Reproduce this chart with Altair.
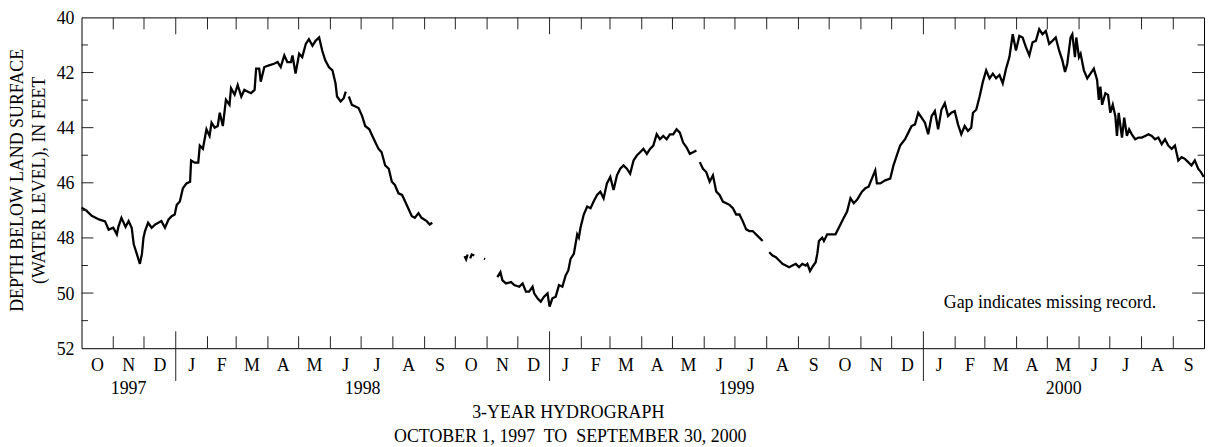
import altair as alt
import pandas as pd

# ---- data: (days since 1997-10-01, depth below land surface in feet) ----
START = pd.Timestamp("1997-10-01")

seg_a1 = [(0,46.9),(4.5,47.0),(10,47.2),(17,47.33),(23,47.4),(26.5,47.7),(31,47.63),(34.5,47.87),(36,47.6),(39,47.27),
          (43,47.6),(46,47.39),(49,47.63),(51,48.23),(54,48.58),(57,48.94),(59,48.58),(60.5,47.99),(62,47.75),(65,47.45),
          (68.5,47.63),(72,47.51),(78,47.39),(81.5,47.63),(85,47.33),(88,47.21),(91,47.15),(93,46.8),(96,46.68),(99,46.2),
          (102.5,46.02),(106,45.96),(107,45.19),(110.5,45.27),(114,45.27),(115.5,44.65),(118.5,44.77),(122,44.06),(125,44.3),(127,43.82),
          (130,44.0),(133,43.94),(135,43.46),(138,43.94),(141,42.99),(144.5,43.17),(146,42.57),(149.5,42.8),(152.5,42.45),(156,42.87),
          (159,42.63),(162,42.69),(165.5,42.75),(169,42.63),(170.5,41.86),(173.5,41.86),(175,42.33),(178.5,41.8),(183,41.74),(188,41.68),
          (191.5,41.62),(194.5,41.8),(198,41.38),(201,41.62),(204.5,41.62),(206,41.38),(209,42.04),(212.5,41.32),(215.5,41.44),(219,40.96),
          (222,40.79),(225.5,41.03),(228.5,40.85),(232,40.73),(235,41.2),(238,41.56),(241.5,41.8),(245,41.92),(248,42.39),(249.5,42.87),
          (253,43.05),(256,42.93),(258,42.69)]

seg_a2 = [(261,42.87),(264,43.17),(267.5,43.23),(270.5,43.29),(274,43.58),(277,43.94),(281,44.06),(284,44.3),(287,44.54),(290,44.77),
          (293,44.89),(296.5,45.37),(300,45.49),(303,45.96),(306,46.08),(309.5,46.38),(313,46.44),(316,46.68),(319,46.92),(322.5,47.21),
          (325.5,47.27),(329,47.1),(332,47.27),(337,47.39),(340,47.51),(342.5,47.45)]

seg_b1 = [(374,48.66),(375.5,48.78),(377,48.6)]
seg_b2 = [(379.5,48.74),(381,48.6),(383.5,48.64)]
seg_b3 = [(393,48.75),(394,48.77)]

seg_c = [(406,49.42),(409,49.24),(411,49.54),(414.5,49.65),(419.4,49.6),(422.5,49.71),(427.4,49.77),(430.7,49.65),(433.9,49.95),(437,49.95),
         (440.4,49.77),(442,50.01),(445.2,50.19),(448.4,50.31),(451.6,50.13),(455,50.01),(457,50.49),(459.8,50.19),(463,50.13),(466.2,49.71),
         (469.5,49.77),(472.7,49.36),(475.3,49.18),(477.5,48.76),(480.7,48.58),(484,47.87),(485.6,47.99),(487.2,47.63),(490.4,47.15),(493.7,46.86),
         (497,46.92),(500,46.68),(503.4,46.44),(506.6,46.32),(509.8,46.56),(513,46.02),(516.3,45.79),(519.5,46.26),(522.8,45.73),(526,45.49),
         (529.2,45.37),(532.5,45.49),(535.7,45.67),(539,45.19),(542.2,45.01),(545.4,44.89),(548.6,44.77),(552,44.95),(555.1,44.77),(558.3,44.65),
         (561.6,44.24),(564.8,44.42),(568,44.30),(571.3,44.42),(574.5,44.24),(577.7,44.24),(581,44.06),(584.2,44.18),(587.4,44.54),(590.7,44.71),
         (594,44.95),(597.1,44.89),(600.4,44.83)]

seg_d = [(603.7,45.25),(606.8,45.49),(610,45.61),(613.3,45.96),(616.5,45.73),(619.8,46.32),(623,46.44),(626.2,46.68),(629.5,46.74),(632.7,46.80),
         (636,46.92),(639.2,47.15),(642.4,47.15),(645.6,47.39),(649,47.69),(652.1,47.75),(655.3,47.75),(658.6,47.87),(661.8,47.99),(665,48.11)]

seg_e = [(671.5,48.52),(674.7,48.64),(678,48.70),(681.2,48.82),(684.4,48.94),(687.7,49.0),(690.9,49.06),(694.1,49.0),(697.4,48.94),(700.6,49.06),
         (703.8,48.94),(707.1,49.0),(708.7,48.94),(711.3,49.2),(713.5,49.06),(716.8,48.88),(718.4,48.58),(720,48.11),(723.2,47.99),(724.9,48.11),
         (728.1,47.87),(733,47.87),(736.2,47.87),(739.4,47.63),(744.3,47.27),(747.5,47.04),(750.8,46.56),(754,46.74),(757.2,46.62),(762,46.32),
         (765.3,46.20),(768.5,46.14),(771.7,45.85),(775,45.55),(776.6,46.02),(779.9,46.02),(784.7,45.91),(789.6,45.85),(792.8,45.37),(796,45.01),
         (799.3,44.65),(804.1,44.42),(807.3,44.18),(810.5,43.94),(813.8,43.88),(817,43.46),(820.2,43.64),(823.5,43.82),(826.7,44.24),(830,43.58),
         (833.2,43.40),(836.4,44.06),(839.6,43.35),(842.9,43.11),(846.1,43.58),(849.3,43.46),(852.6,43.40),(855.8,43.88),(859,44.24),(862.3,43.94),
         (865.5,44.12),(868.7,44.0),(870.4,43.46),(873.6,43.35),(876.9,42.87),(880.1,42.33),(883.3,41.92),(886.6,42.21),(889.8,42.04),(893,42.21),
         (896.3,42.09),(899.5,42.39),(902.7,41.86),(906,41.44),(909.2,40.61),(912.4,41.2),(915.7,40.67),(918.9,40.73),(922.1,41.08),(925.4,41.38),
         (928.6,40.90),(931.8,40.85),(935.1,40.43),(938.3,40.61),(941.5,40.49),(944.8,40.96),(948,40.85),(951.2,40.73),(954.5,41.2),(957.7,41.56),
         (960.3,41.98),(962.5,41.68),(965.7,40.73),(967.4,40.61),(970,41.44),(971.3,40.73),(973.9,41.44),(975.5,41.32),(978.7,41.92),(982,42.21),
         (985.1,42.04),(988.4,41.86),(991.6,42.27),(993.3,42.99),(994.8,42.51),(996.5,43.17),(999.7,42.75),(1002.3,42.81),(1004.5,43.46),(1006.9,43.17),
         (1009.4,43.58),(1011,44.30),(1012.7,43.46),(1015.9,44.36),(1018.1,43.64),(1020.7,44.30),(1022.9,44.06),(1025.5,44.24),(1028.8,44.42),(1032.1,44.36),
         (1035.3,44.36),(1038.5,44.30),(1041.8,44.24),(1045,44.30),(1048.2,44.42),(1051.4,44.36),(1054.7,44.6),(1057.9,44.42),(1061.1,44.65),(1064.4,44.77),
         (1067.6,44.65),(1070.9,45.19),(1074.1,45.07),(1077.3,45.13),(1080.6,45.25),(1083.8,45.37),(1087,45.19),(1090.3,45.49),(1093,45.61),(1095.7,45.79)]

segments = {"A1": seg_a1, "A2": seg_a2, "B1": seg_b1, "B2": seg_b2, "B3": seg_b3,
            "C": seg_c, "D": seg_d, "E": seg_e}

y_label_values = [40, 42, 44, 46, 48, 50, 52]
y_major_ticks = [42, 44, 46, 48, 50]
y_minor_ticks = [41, 43, 45, 47, 49, 51]
year_labels = ["1997", "1998", "1999", "2000"]
year_spans = [("1997-10-01", "1998-01-01"), ("1998-01-01", "1999-01-01"),
              ("1999-01-01", "2000-01-01"), ("2000-01-01", "2000-10-01")]
title_lines = ["3-YEAR HYDROGRAPH", "OCTOBER 1, 1997\u00a0 TO\u00a0 SEPTEMBER 30, 2000"]
y_title_lines = ["DEPTH BELOW LAND SURFACE", "(WATER LEVEL), IN FEET"]
note_text = "Gap indicates missing record."

def iso(ts):
    return ts.strftime("%Y-%m-%dT%H:%M:%SZ")

rows = []
for name, pts in segments.items():
    for d, v in pts:
        rows.append({"seg": name, "date": iso(START + pd.Timedelta(days=d)), "depth": v})
df = pd.DataFrame(rows)

month_starts = pd.date_range("1997-10-01", "2000-09-01", freq="MS")
month_mid = [iso(m + ((m + pd.offsets.MonthBegin(1)) - m) / 2) for m in month_starts]
month_lab = [m.strftime("%b")[0] for m in month_starts]
df_mlab = pd.DataFrame({"date": month_mid, "t": month_lab})
df_mtick = pd.DataFrame({"date": [iso(m) for m in month_starts[1:] if m.month != 1]})
df_ytick = pd.DataFrame({"date": [iso(m) for m in month_starts if m.month == 1]})
df_year = pd.DataFrame({"date": [iso(pd.Timestamp(a) + (pd.Timestamp(b) - pd.Timestamp(a)) / 2) for a, b in year_spans],
                        "t": year_labels})

TOP = 8
W, H = 1130, 333
FONT = "Liberation Serif"
FS = 18
TICK = "#222222"

xscale = alt.Scale(type="utc", domain=[alt.DateTime(year=1997, month=10, date=1, utc=True),
                                       alt.DateTime(year=2000, month=10, date=1, utc=True)])
yscale = alt.Scale(domain=[40, 52], reverse=True, nice=False, zero=False)

X = alt.X("date:T", scale=xscale, axis=None)

line = alt.Chart(df).mark_line(color="black", strokeWidth=2.3).encode(
    x=X, y=alt.Y("depth:Q", scale=yscale, axis=None), detail="seg:N")

bot_mt = alt.Chart(df_mtick).mark_rule(color=TICK, strokeWidth=1).encode(
    x=X, y=alt.value(H), y2=alt.value(H - 12))
top_mt = alt.Chart(df_mtick).mark_rule(color=TICK, strokeWidth=1).encode(
    x=X, y=alt.value(0), y2=alt.value(12))
bot_yt = alt.Chart(df_ytick).mark_rule(color=TICK, strokeWidth=1).encode(
    x=X, y=alt.value(H - 17), y2=alt.value(H + 33))
top_yt = alt.Chart(df_ytick).mark_rule(color=TICK, strokeWidth=1).encode(
    x=X, y=alt.value(0), y2=alt.value(17))

df_major = pd.DataFrame({"v": y_major_ticks})
df_minor = pd.DataFrame({"v": y_minor_ticks})
Yv = alt.Y("v:Q", scale=yscale, axis=None)
lmaj = alt.Chart(df_major).mark_rule(color=TICK).encode(y=Yv, x=alt.value(0), x2=alt.value(12))
lmin = alt.Chart(df_minor).mark_rule(color=TICK).encode(y=Yv, x=alt.value(0), x2=alt.value(6.5))
rmaj = alt.Chart(df_major).mark_rule(color=TICK).encode(y=Yv, x=alt.value(W), x2=alt.value(W - 12))
rmin = alt.Chart(df_minor).mark_rule(color=TICK).encode(y=Yv, x=alt.value(W), x2=alt.value(W - 6.5))

ylab = alt.Chart(pd.DataFrame({"v": y_label_values})).mark_text(
    font=FONT, fontSize=FS, color="black", align="right", baseline="middle", dy=1.5).encode(
    y=Yv, x=alt.value(-7), text=alt.Text("v:Q", format="d"))

mlab = alt.Chart(df_mlab).mark_text(font=FONT, fontSize=FS, color="black",
                                    align="center", baseline="alphabetic").encode(
    x=X, y=alt.value(H + 22.5), text="t:N")
ylab2 = alt.Chart(df_year).mark_text(font=FONT, fontSize=FS, color="black",
                                     align="center", baseline="alphabetic").encode(
    x=X, y=alt.value(H + 46), text="t:N")

t1 = alt.Chart(pd.DataFrame({"t": [title_lines[0]]})).mark_text(
    font=FONT, fontSize=FS, color="black", align="center", baseline="alphabetic").encode(
    x=alt.value(490), y=alt.value(H + 70), text="t:N")
t2 = alt.Chart(pd.DataFrame({"t": [title_lines[1]]})).mark_text(
    font=FONT, fontSize=FS, color="black", align="center", baseline="alphabetic").encode(
    x=alt.value(492), y=alt.value(H + 94), text="t:N")

yt1 = alt.Chart(pd.DataFrame({"t": [y_title_lines[0]]})).mark_text(
    font=FONT, fontSize=FS, color="black", align="center", baseline="middle", angle=270).encode(
    x=alt.value(-63.5), y=alt.value(164), text="t:N")
yt2 = alt.Chart(pd.DataFrame({"t": [y_title_lines[1]]})).mark_text(
    font=FONT, fontSize=FS, color="black", align="center", baseline="middle", angle=270).encode(
    x=alt.value(-41.5), y=alt.value(164), text="t:N")

note = alt.Chart(pd.DataFrame({"t": [note_text]})).mark_text(
    font=FONT, fontSize=FS, color="black", align="left", baseline="alphabetic").encode(
    x=alt.value(868), y=alt.value(H - 40), text="t:N")

chart = alt.layer(
    line, bot_mt, top_mt, bot_yt, top_yt, lmaj, lmin, rmaj, rmin,
    ylab, mlab, ylab2, t1, t2, yt1, yt2, note
).properties(
    width=W, height=H,
    padding={"left": 74, "top": TOP, "right": 3, "bottom": 98},
    autosize=alt.AutoSizeParams(type="none"),
).configure_view(stroke="black", strokeWidth=1)

chart.save("out.html", embed_options={"renderer": "svg", "actions": False})
